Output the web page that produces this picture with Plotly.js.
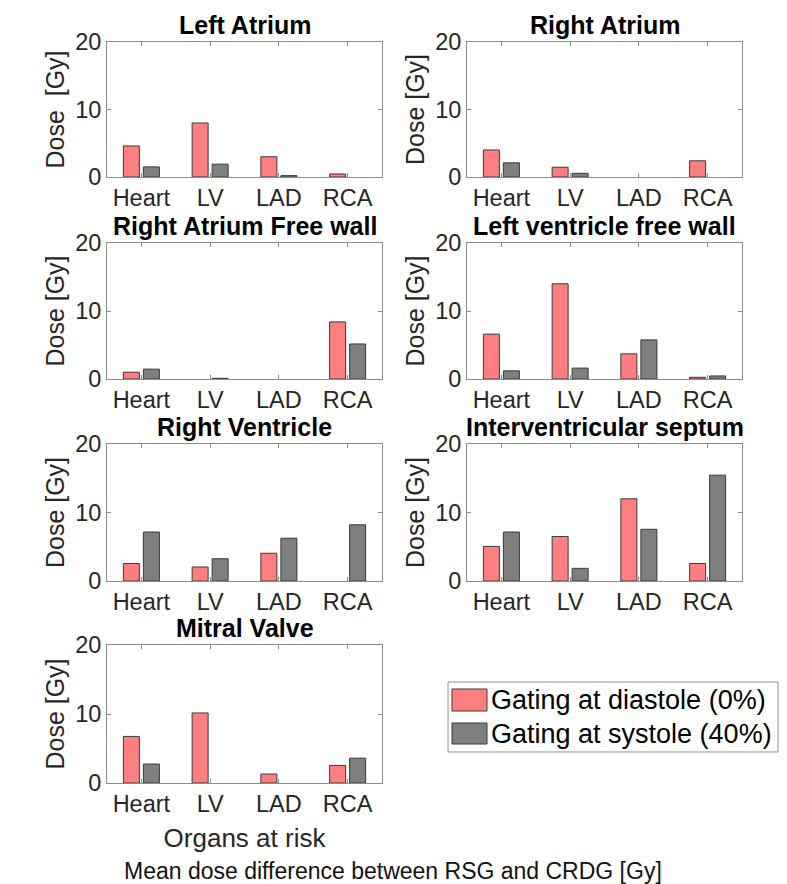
<!DOCTYPE html>
<html>
<head>
<meta charset="utf-8">
<script src="https://cdn.plot.ly/plotly-3.0.1.min.js"></script>
<style>
  html, body { margin: 0; padding: 0; background: #fff; }
  #chart { width: 787px; height: 884px; }
</style>
</head>
<body>
<div id="chart"></div>
<script>
// organs at risk on every x axis
var organs = ['Heart', 'LV', 'LAD', 'RCA'];

// panel titles
var panelTitles = ['Left Atrium', 'Right Atrium', 'Right Atrium Free wall',
  'Left ventricle free wall', 'Right Ventricle', 'Interventricular septum', 'Mitral Valve'];

// mean dose difference [Gy], gating at diastole (0%) / systole (40%)
var leftAtriumDia = [4.6, 8.0, 3.0, 0.45];
var leftAtriumSys = [1.5, 1.9, 0.2, 0];
var rightAtriumDia = [4.0, 1.45, 0, 2.4];
var rightAtriumSys = [2.1, 0.55, 0, 0];
var raFreeWallDia = [1.0, 0, 0, 8.4];
var raFreeWallSys = [1.45, 0.1, 0, 5.15];
var lvFreeWallDia = [6.6, 14.0, 3.7, 0.25];
var lvFreeWallSys = [1.2, 1.6, 5.75, 0.45];
var rightVentricleDia = [2.55, 2.05, 4.05, 0];
var rightVentricleSys = [7.15, 3.25, 6.25, 8.2];
var septumDia = [5.05, 6.5, 12.0, 2.55];
var septumSys = [7.15, 1.85, 7.55, 15.45];
var mitralValveDia = [6.75, 10.15, 1.3, 2.55];
var mitralValveSys = [2.75, 0, 0, 3.6];

var diaSeries = [leftAtriumDia, rightAtriumDia, raFreeWallDia, lvFreeWallDia,
  rightVentricleDia, septumDia, mitralValveDia];
var sysSeries = [leftAtriumSys, rightAtriumSys, raFreeWallSys, lvFreeWallSys,
  rightVentricleSys, septumSys, mitralValveSys];

var seriesNames = ['Gating at diastole (0%)', 'Gating at systole (40%)'];
var yTitles = ['Dose\u00a0 [Gy]', 'Dose [Gy]', 'Dose [Gy]', 'Dose [Gy]',
  'Dose [Gy]', 'Dose [Gy]', 'Dose [Gy]'];

var W = 787, H = 884;
function fx(p) { return p / W; }
function fy(p) { return 1 - p / H; }

var pink = '#ff7f7f', grey = '#7f7f7f', edge = '#3a3a3a';
var font = 'Liberation Sans, Arial, Helvetica, sans-serif';
var textCol = '#262626';

// axis boxes in pixels: [left, right], [top, bottom]
var cols = [[107, 382], [467, 742]];
var rows = [[42, 177], [243, 379], [444, 581], [645, 783]];

// zero bars get no outline, like in the original figure
function edges(vals) {
  return vals.map(function (v) { return v === 0 ? 0 : 1; });
}

var data = [];
var layout = {
  width: W, height: H,
  margin: {l: 0, r: 0, t: 0, b: 0},
  paper_bgcolor: '#fff', plot_bgcolor: '#fff',
  barmode: 'group', bargap: 0.418, bargroupgap: 0.2,
  showlegend: false,
  font: {family: font, size: 23, color: textCol},
  annotations: [], shapes: []
};

for (var i = 0; i < 7; i++) {
  var n = i === 0 ? '' : String(i + 1);
  var c = cols[i % 2], r = rows[Math.floor(i / 2)];
  data.push({
    type: 'bar', x: organs, y: diaSeries[i], name: seriesNames[0],
    xaxis: 'x' + n, yaxis: 'y' + n,
    marker: {color: pink, line: {color: edge, width: edges(diaSeries[i])}}
  });
  data.push({
    type: 'bar', x: organs, y: sysSeries[i], name: seriesNames[1],
    xaxis: 'x' + n, yaxis: 'y' + n,
    marker: {color: grey, line: {color: edge, width: edges(sysSeries[i])}}
  });
  layout['xaxis' + n] = {
    domain: [fx(c[0]), fx(c[1])], anchor: 'y' + n,
    type: 'category', range: [-0.5, 3.5],
    showline: true, linecolor: '#8c8c8c', linewidth: 1, mirror: 'ticks',
    ticks: 'inside', ticklen: 4, tickcolor: '#8c8c8c',
    showgrid: false, zeroline: false,
    tickfont: {size: 23.5, color: textCol}, fixedrange: true
  };
  layout['yaxis' + n] = {
    domain: [fy(r[1]), fy(r[0])], anchor: 'x' + n,
    range: [0, 20], tickvals: [0, 10, 20],
    showline: true, linecolor: '#8c8c8c', linewidth: 1, mirror: 'ticks',
    ticks: 'inside', ticklen: 4, tickcolor: '#8c8c8c',
    showgrid: false, zeroline: false,
    tickfont: {size: 23.5, color: textCol}, fixedrange: true,
    title: {text: yTitles[i], font: {size: 25, color: textCol}, standoff: 3}
  };
  layout.annotations.push({
    xref: 'paper', yref: 'paper', x: fx((c[0] + c[1]) / 2), y: fy(r[0] - 17),
    xanchor: 'center', yanchor: 'middle', showarrow: false,
    text: '<b>' + panelTitles[i] + '</b>',
    font: {size: 25, color: '#000'}
  });
}

layout.xaxis7.title = {text: 'Organs at risk', font: {size: 26, color: textCol}, standoff: 12};

layout.annotations.push({
  xref: 'paper', yref: 'paper', x: fx(393), y: fy(871),
  xanchor: 'center', yanchor: 'middle', showarrow: false,
  text: 'Mean dose difference between RSG and CRDG [Gy]',
  font: {size: 23, color: '#111'}
});

// legend box drawn by hand to get the wide patches
layout.shapes.push({
  type: 'rect', xref: 'paper', yref: 'paper',
  x0: fx(448), x1: fx(778), y0: fy(752), y1: fy(682),
  line: {color: '#8c8c8c', width: 1}, fillcolor: '#fff'
});
var legendRows = [[689, 711, pink], [723, 744, grey]];
legendRows.forEach(function (lr, k) {
  layout.shapes.push({
    type: 'rect', xref: 'paper', yref: 'paper',
    x0: fx(452), x1: fx(487), y0: fy(lr[1]), y1: fy(lr[0]),
    line: {color: edge, width: 1}, fillcolor: lr[2]
  });
  layout.annotations.push({
    xref: 'paper', yref: 'paper', x: fx(489), y: fy((lr[0] + lr[1]) / 2),
    xanchor: 'left', yanchor: 'middle', showarrow: false,
    text: seriesNames[k], font: {size: 27, color: '#000'}
  });
});

Plotly.newPlot('chart', data, layout, {displayModeBar: false, staticPlot: true});
</script>
</body>
</html>
